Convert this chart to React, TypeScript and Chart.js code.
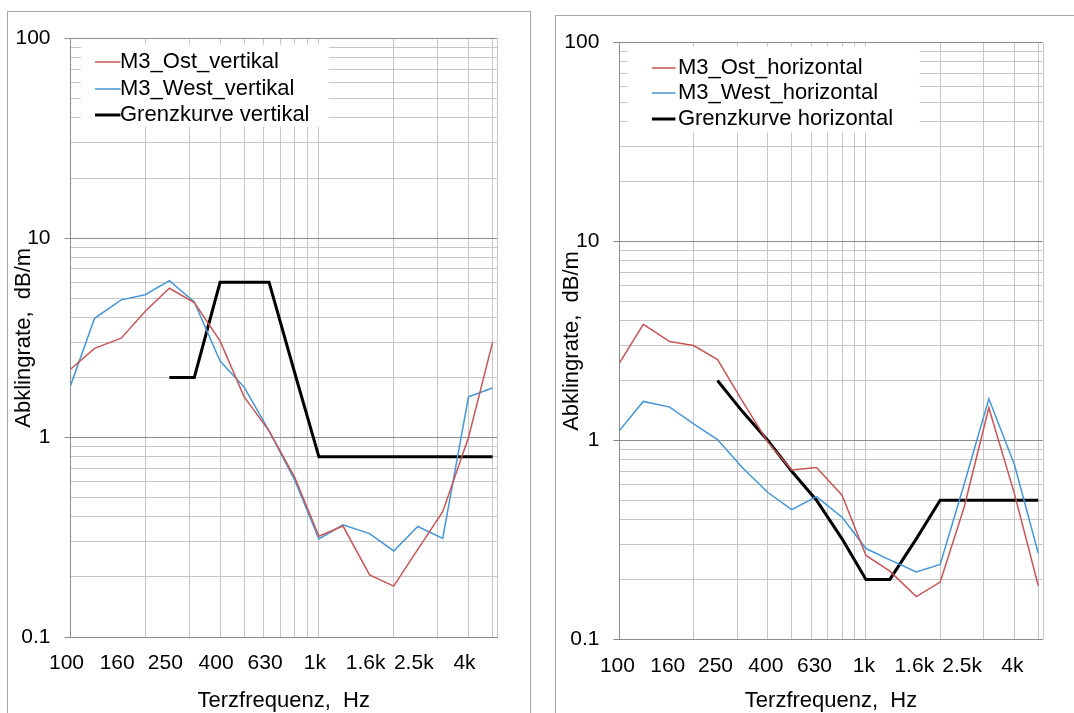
import React, { useEffect, useRef } from "react";
import { Chart, registerables } from "chart.js";

Chart.register(...registerables);

const FONT = "'Liberation Sans', Arial, sans-serif";

// Third-octave centre frequencies (Hz)
const frequencies = [100, 125, 160, 200, 250, 315, 400, 500, 630, 800, 1000, 1250, 1600, 2000, 2500, 3150, 4000, 5000];

// Axis tick labels and grid positions
const xLabelValues = [100, 160, 250, 400, 630, 1000, 1600, 2500, 4000];
const xLabelTexts = ["100", "160", "250", "400", "630", "1k", "1.6k", "2.5k", "4k"];
const xGridValues = [100, 200, 300, 400, 500, 600, 700, 800, 900, 1000, 2000, 3000, 4000, 5000];
const yLabelValues = [0.1, 1, 10, 100];
const yLabelTexts = ["0.1", "1", "10", "100"];
const yGridValues = [0.1, 0.2, 0.3, 0.4, 0.5, 0.6, 0.7, 0.8, 0.9, 1, 2, 3, 4, 5, 6, 7, 8, 9, 10, 20, 30, 40, 50, 60, 70, 80, 90, 100];
const xMin = 100;
const xMax = 5210;
const yMin = 0.1;
const yMax = 100;

// Left panel: vertical
const ostVertikal = [2.2, 2.8, 3.15, 4.3, 5.6, 4.75, 3.05, 1.6, 1.08, 0.63, 0.32, 0.36, 0.205, 0.18, 0.275, 0.425, 1.0, 3.0];
const westVertikal = [1.82, 3.96, 4.9, 5.2, 6.12, 4.78, 2.42, 1.79, 1.08, 0.61, 0.31, 0.365, 0.33, 0.27, 0.358, 0.312, 1.6, 1.77];
const grenzVertikal = [null, null, null, null, 2, 2, 6, 6, 6, 2.1, 0.8, 0.8, 0.8, 0.8, 0.8, 0.8, 0.8, 0.8];

// Right panel: horizontal
const ostHorizontal = [2.45, 3.83, 3.14, 3.0, 2.55, 1.58, 0.98, 0.71, 0.73, 0.53, 0.264, 0.22, 0.164, 0.194, 0.46, 1.46, 0.54, 0.186];
const westHorizontal = [1.12, 1.57, 1.47, 1.21, 1.01, 0.73, 0.547, 0.449, 0.522, 0.411, 0.286, 0.251, 0.218, 0.238, 0.6, 1.62, 0.757, 0.271];
const grenzHorizontal = [null, null, null, null, 2, 1.4, 1.0, 0.7, 0.5, 0.32, 0.2, 0.2, 0.32, 0.5, 0.5, 0.5, 0.5, 0.5];

const RED = "#c65657";
const BLUE = "#4596d6";
const BLACK = "#000000";
const GRID = "#c6c6c6";
const MAJOR = "#8c8c8c";

const allXTicks = Array.from(new Set([...xGridValues, ...xLabelValues])).sort((a, b) => a - b);

const insideLegend = {
  id: "insideLegend",
  beforeDatasetsDraw(chart: any, _a: any, o: any) {
    const { ctx, chartArea: a } = chart;
    ctx.save();
    ctx.fillStyle = "#ffffff";
    ctx.fillRect(a.left + o.boxX, a.top + o.boxY, o.boxW, o.boxH);
    // right frame edge of the plot area
    ctx.strokeStyle = GRID;
    ctx.lineWidth = 1;
    ctx.beginPath();
    ctx.moveTo(Math.round(a.right) + 0.5, a.top);
    ctx.lineTo(Math.round(a.right) + 0.5, a.bottom);
    ctx.stroke();
    ctx.restore();
  },
  afterDatasetsDraw(chart: any, _a: any, o: any) {
    const { ctx, chartArea: a } = chart;
    ctx.save();
    ctx.font = `${o.fontSize}px ${FONT}`;
    ctx.textBaseline = "middle";
    ctx.textAlign = "left";
    chart.data.datasets.forEach((ds: any, i: number) => {
      const y = Math.round(a.top + o.rowY + i * o.rowGap);
      ctx.strokeStyle = ds.borderColor;
      ctx.lineWidth = ds.borderWidth;
      ctx.beginPath();
      ctx.moveTo(a.left + o.lineX0, y);
      ctx.lineTo(a.left + o.lineX1, y);
      ctx.stroke();
      ctx.fillStyle = "#000";
      ctx.fillText(ds.label, a.left + o.textX, y);
    });
    ctx.restore();
  },
};

type Series = { label: string; values: (number | null)[]; color: string; width: number };

type PanelProps = {
  series: Series[];
  width: number;
  height: number;
  top: number;
  right: number;
  yAxisWidth: number;
  xAxisHeight: number;
  labelOffset: number;
  legend: any;
};

function Panel(p: PanelProps) {
  const ref = useRef<HTMLCanvasElement>(null);
  useEffect(() => {
    const font = { family: FONT, size: 22 };
    const tickFont = { family: FONT, size: 21 };
    const chart = new Chart(ref.current as HTMLCanvasElement, {
      type: "line",
      data: {
        datasets: p.series.map((s) => ({
          label: s.label,
          data: frequencies.map((f, i) => ({ x: f, y: s.values[i] })),
          borderColor: s.color,
          backgroundColor: s.color,
          borderWidth: s.width,
          pointRadius: 0,
          tension: 0,
          fill: false,
        })),
      } as any,
      options: {
        responsive: false,
        animation: false,
        devicePixelRatio: 1,
        layout: { padding: { left: 0, top: p.top, right: p.right, bottom: 0 } },
        plugins: {
          legend: { display: false },
          tooltip: { enabled: false },
          insideLegend: p.legend,
        } as any,
        scales: {
          x: {
            type: "logarithmic",
            position: "bottom",
            min: xMin,
            max: xMax,
            afterBuildTicks: (s: any) => {
              s.ticks = allXTicks.map((v) => ({ value: v }));
            },
            afterFit: (s: any) => {
              s.height = p.xAxisHeight;
            },
            grid: {
              color: (c: any) => (c.tick && xGridValues.includes(c.tick.value) ? GRID : "rgba(0,0,0,0)"),
              lineWidth: 1,
              drawTicks: false,
            },
            border: { display: true, color: MAJOR, width: 1 },
            ticks: {
              autoSkip: false,
              maxRotation: 0,
              minRotation: 0,
              padding: 14,
              labelOffset: p.labelOffset,
              color: "#000",
              font: tickFont,
              callback: (v: any) => {
                const i = xLabelValues.indexOf(Number(v));
                return i >= 0 ? xLabelTexts[i] : "";
              },
            },
            title: {
              display: true,
              text: "Terzfrequenz,  Hz",
              color: "#000",
              font,
              padding: { top: 0, bottom: -1 },
            },
          },
          y: {
            type: "logarithmic",
            position: "left",
            min: yMin,
            max: yMax,
            afterBuildTicks: (s: any) => {
              s.ticks = yGridValues.map((v) => ({ value: v }));
            },
            afterFit: (s: any) => {
              s.width = p.yAxisWidth;
            },
            grid: {
              color: (c: any) => (c.tick && yLabelValues.includes(c.tick.value) ? MAJOR : GRID),
              tickColor: (c: any) => (c.tick && yLabelValues.includes(c.tick.value) ? MAJOR : "rgba(0,0,0,0)"),
              lineWidth: 1,
              drawTicks: true,
              tickLength: 6,
            },
            border: { display: true, color: MAJOR, width: 1 },
            ticks: {
              autoSkip: false,
              padding: 14,
              color: "#000",
              font: tickFont,
              callback: (v: any) => {
                const i = yLabelValues.indexOf(Number(v));
                return i >= 0 ? yLabelTexts[i] : "";
              },
            },
            title: {
              display: true,
              text: "Abklingrate,  dB/m",
              color: "#000",
              font,
              padding: { top: 3, bottom: 0 },
            },
          },
        },
      } as any,
      plugins: [insideLegend as any],
    });
    return () => chart.destroy();
  }, []);
  return (
    <canvas
      ref={ref}
      width={p.width}
      height={p.height}
      style={{ position: "absolute", left: 0, top: 0, width: p.width, height: p.height }}
    />
  );
}

const leftSeries: Series[] = [
  { label: "M3_Ost_vertikal", values: ostVertikal, color: RED, width: 1.5 },
  { label: "M3_West_vertikal", values: westVertikal, color: BLUE, width: 1.5 },
  { label: "Grenzkurve vertikal", values: grenzVertikal, color: BLACK, width: 3 },
];

const rightSeries: Series[] = [
  { label: "M3_Ost_horizontal", values: ostHorizontal, color: RED, width: 1.5 },
  { label: "M3_West_horizontal", values: westHorizontal, color: BLUE, width: 1.5 },
  { label: "Grenzkurve horizontal", values: grenzHorizontal, color: BLACK, width: 3 },
];

export default function App() {
  return (
    <div
      style={{
        position: "fixed",
        left: 0,
        top: 0,
        width: 1074,
        height: 713,
        overflow: "hidden",
        background: "#ffffff",
      }}
    >
      <div
        style={{
          position: "absolute",
          left: 7,
          top: 11,
          width: 524,
          height: 760,
          boxSizing: "border-box",
          border: "1px solid #a6a6a6",
        }}
      >
        <Panel
          series={leftSeries}
          width={522}
          height={701}
          top={19}
          right={33}
          yAxisWidth={62.5}
          xAxisHeight={76}
          labelOffset={-4}
          legend={{ boxX: 10.5, boxY: 6, boxW: 248, boxH: 82, lineX0: 24.5, lineX1: 50, textX: 49.5, rowY: 23.5, rowGap: 26.4, fontSize: 22 }}
        />
      </div>
      <div
        style={{
          position: "absolute",
          left: 555,
          top: 15,
          width: 560,
          height: 760,
          boxSizing: "border-box",
          border: "1px solid #a6a6a6",
        }}
      >
        <Panel
          series={rightSeries}
          width={518}
          height={697}
          top={17.3}
          right={31.3}
          yAxisWidth={63.4}
          xAxisHeight={73.7}
          labelOffset={-2}
          legend={{ boxX: 8.4, boxY: 4, boxW: 292, boxH: 86, lineX0: 32.5, lineX1: 56, textX: 58.5, rowY: 25, rowGap: 25.5, fontSize: 22 }}
        />
      </div>
    </div>
  );
}
